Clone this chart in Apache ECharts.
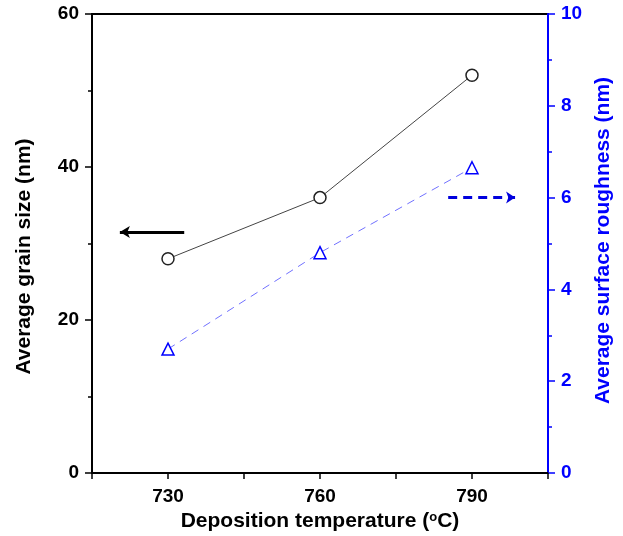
<!DOCTYPE html>
<html lang="en">
<head>
<meta charset="UTF-8">
<title></title>
<script src="https://cdn.jsdelivr.net/npm/echarts@6/dist/echarts.min.js"></script>
<style>
  html, body { margin: 0; padding: 0; background: #fff; }
  #main { width: 623px; height: 536px; }
</style>
</head>
<body>
<div id="main"></div>
<script>
// data
var temps = [730, 760, 790];
var grainSize = [28, 36, 52];
var roughness = [2.7, 4.8, 6.65];
var xTicks = [730, 760, 790];

var font = 'Liberation Sans, Arial, sans-serif';
var blue = '#0000ff';

var myChart = echarts.init(document.getElementById('main'));
var option = {
    animation: false,
    grid: {
        left: 92, right: 75, top: 14, bottom: 63,
        outerBoundsMode: 'none', containLabel: false,
        show: true, borderColor: '#000', borderWidth: 2
    },
    xAxis: {
        type: 'value', min: 715, max: 805, interval: 15,
        name: 'Deposition temperature ({sup|o}C)',
        nameLocation: 'middle', nameGap: 36,
        nameTextStyle: {
            fontFamily: font, fontWeight: 'bold', fontSize: 21, color: '#000',
            rich: { sup: { fontFamily: font, fontWeight: 'bold', fontSize: 13, verticalAlign: 'top', padding: [0, 0, 8, 0] } }
        },
        axisLine: { lineStyle: { color: '#000', width: 2 } },
        axisTick: { inside: false, length: 6, lineStyle: { width: 1.5 } },
        splitLine: { show: false },
        axisLabel: {
            margin: 14, fontFamily: font, fontWeight: 'bold', fontSize: 19, color: '#000',
            formatter: function (v) { return xTicks.indexOf(v) >= 0 ? v : ''; }
        }
    },
    yAxis: [{
        type: 'value', min: 0, max: 60, interval: 20, position: 'left',
        name: 'Average grain size (nm)', nameLocation: 'middle', nameGap: 57,
        nameTextStyle: { fontFamily: font, fontWeight: 'bold', fontSize: 21, color: '#000', padding: [0, 26, 0, 0] },
        axisLine: { show: true, lineStyle: { color: '#000', width: 2 } },
        axisTick: { show: true, length: 7, lineStyle: { width: 1.5 } },
        minorTick: { show: true, splitNumber: 2, length: 4, lineStyle: { color: '#000', width: 1.5 } },
        splitLine: { show: false },
        axisLabel: { margin: 13, fontFamily: font, fontWeight: 'bold', fontSize: 19, color: '#000' }
    }, {
        type: 'value', min: 0, max: 10, interval: 2, position: 'right',
        name: 'Average surface roughness (nm)', nameLocation: 'middle', nameGap: 45,
        nameRotate: 90,
        nameTextStyle: { fontFamily: font, fontWeight: 'bold', fontSize: 21, color: blue, padding: [0, 0, 0, 6] },
        axisLine: { show: true, lineStyle: { color: blue, width: 2 } },
        axisTick: { show: true, length: 7, lineStyle: { color: blue, width: 1.5 } },
        minorTick: { show: true, splitNumber: 2, length: 4, lineStyle: { color: blue, width: 1.5 } },
        splitLine: { show: false },
        axisLabel: { margin: 13, fontFamily: font, fontWeight: 'bold', fontSize: 19, color: blue }
    }],
    series: [{
        type: 'line', yAxisIndex: 0,
        data: temps.map(function (t, i) { return [t, grainSize[i]]; }),
        symbol: 'circle', symbolSize: 12,
        itemStyle: { color: '#fff', borderColor: '#222', borderWidth: 1.5 },
        lineStyle: { color: '#444', width: 1 },
        markLine: {
            silent: true, symbol: ['none', 'arrow'], symbolSize: [9, 10],
            label: { show: false },
            lineStyle: { color: '#000', width: 3, type: 'solid' },
            data: [[{ coord: [733.2, 31.5] }, { coord: [720.5, 31.5] }]]
        }
    }, {
        type: 'line', yAxisIndex: 1,
        data: temps.map(function (t, i) { return [t, roughness[i]]; }),
        symbol: 'triangle', symbolSize: 12,
        itemStyle: { color: '#fff', borderColor: blue, borderWidth: 1.5 },
        lineStyle: { color: '#7070ff', width: 1, type: [8, 6] },
        markLine: {
            silent: true, symbol: ['none', 'arrow'], symbolSize: [9, 9],
            label: { show: false },
            lineStyle: { color: '#0000dd', width: 3, type: [9, 6] },
            data: [[{ coord: [785.3, 6.0] }, { coord: [798.5, 6.0] }]]
        }
    }]
};
myChart.setOption(option);
</script>
</body>
</html>
